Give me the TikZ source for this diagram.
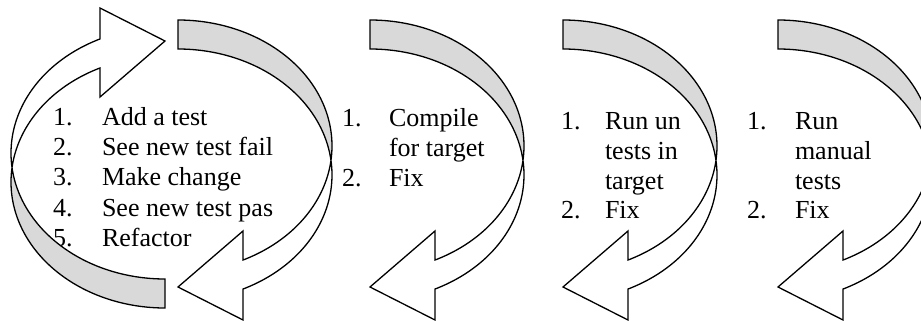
\documentclass[tikz,border=0pt]{standalone}
\usepackage{fontspec}
\setmainfont{Liberation Serif}
\definecolor{bandgray}{RGB}{217,217,217}
\tikzset{
  outline/.style={draw=black, line width=1.3pt, line join=miter},
  itemtext/.style={anchor=base west, inner sep=0pt, outer sep=0pt, font=\fontsize{26}{30}\selectfont},
}
% one curved arrow: ellipse centre x = 0, a = 154, b = 125.9, band 29
\newcommand\ccarrow{%
  \fill[bandgray]
    plot[domain=-90:6.61,samples=90,variable=\t] ({154*cos(\t)},{145.9+125.9*sin(\t)})
    -- plot[domain=6.61:90,samples=90,variable=\t] ({154*cos(\t)},{174.9-125.9*sin(\t)})
    -- cycle;
  \fill[white]
    plot[domain=6.61:65.03,samples=60,variable=\t] ({154*cos(\t)},{145.9+125.9*sin(\t)})
    -- (65,231) -- (0,287) -- (65,320)
    -- plot[domain=-65.03:6.61,samples=60,variable=\t] ({154*cos(\t)},{174.9-125.9*sin(\t)})
    -- cycle;
  \draw[outline]
    plot[domain=-90:65.03,samples=150,variable=\t] ({154*cos(\t)},{145.9+125.9*sin(\t)})
    -- (65,231) -- (0,287) -- (65,320)
    -- plot[domain=-65.03:90,samples=150,variable=\t] ({154*cos(\t)},{174.9-125.9*sin(\t)})
    -- cycle;
}
\begin{document}
\begin{tikzpicture}[x=1pt,y=-1pt]
\useasboundingbox (0,0) rectangle (921,321);
\clip (0,0) rectangle (921,321);
\fill[white] (0,0) rectangle (921,321);
% cycle 1 text
\node[itemtext] (n11) at (53,125.5) {1.};
\node[itemtext] (t11) at (102,125.5) {Add a test};
\node[itemtext] (n12) at (53,155.5) {2.};
\node[itemtext] (t12) at (102,155.5) {See new test fail};
\node[itemtext] (n13) at (53,185.7) {3.};
\node[itemtext] (t13) at (102,185.7) {Make change};
\node[itemtext] (n14) at (53,216) {4.};
\node[itemtext] (t14) at (102,216) {See new test pas};
\node[itemtext] (n15) at (53,246.5) {5.};
\node[itemtext] (t15) at (102,246.5) {Refactor};
% cycle 2 text
\node[itemtext] (n21) at (342,126.5) {1.};
\node[itemtext] (t21) at (389,126.5) {Compile};
\node[itemtext] (t22) at (389,156.5) {for target};
\node[itemtext] (n23) at (342,186.5) {2.};
\node[itemtext] (t23) at (389,186.5) {Fix};
% cycle 3 text
\node[itemtext] (n31) at (561,129) {1.};
\node[itemtext] (t31) at (605,129) {Run un};
\node[itemtext] (t32) at (605,159) {tests in};
\node[itemtext] (t33) at (605,189) {target};
\node[itemtext] (n34) at (561,218.5) {2.};
\node[itemtext] (t34) at (605,218.5) {Fix};
% cycle 4 text
\node[itemtext] (n41) at (747,129) {1.};
\node[itemtext] (t41) at (795,129) {Run};
\node[itemtext] (t42) at (795,159) {manual};
\node[itemtext] (t43) at (795,189) {tests};
\node[itemtext] (n44) at (747,218.5) {2.};
\node[itemtext] (t44) at (795,218.5) {Fix};
% arrows
\begin{scope}[shift={(178,0)}]\ccarrow\end{scope}
\begin{scope}[rotate around={180:(171.5,164)}]
  \begin{scope}[shift={(178,0)}]\ccarrow\end{scope}
\end{scope}
\begin{scope}[shift={(370,0)}]\ccarrow\end{scope}
\begin{scope}[shift={(563,0)}]\ccarrow\end{scope}
\begin{scope}[shift={(778,0)}]\ccarrow\end{scope}
\end{tikzpicture}
\end{document}
